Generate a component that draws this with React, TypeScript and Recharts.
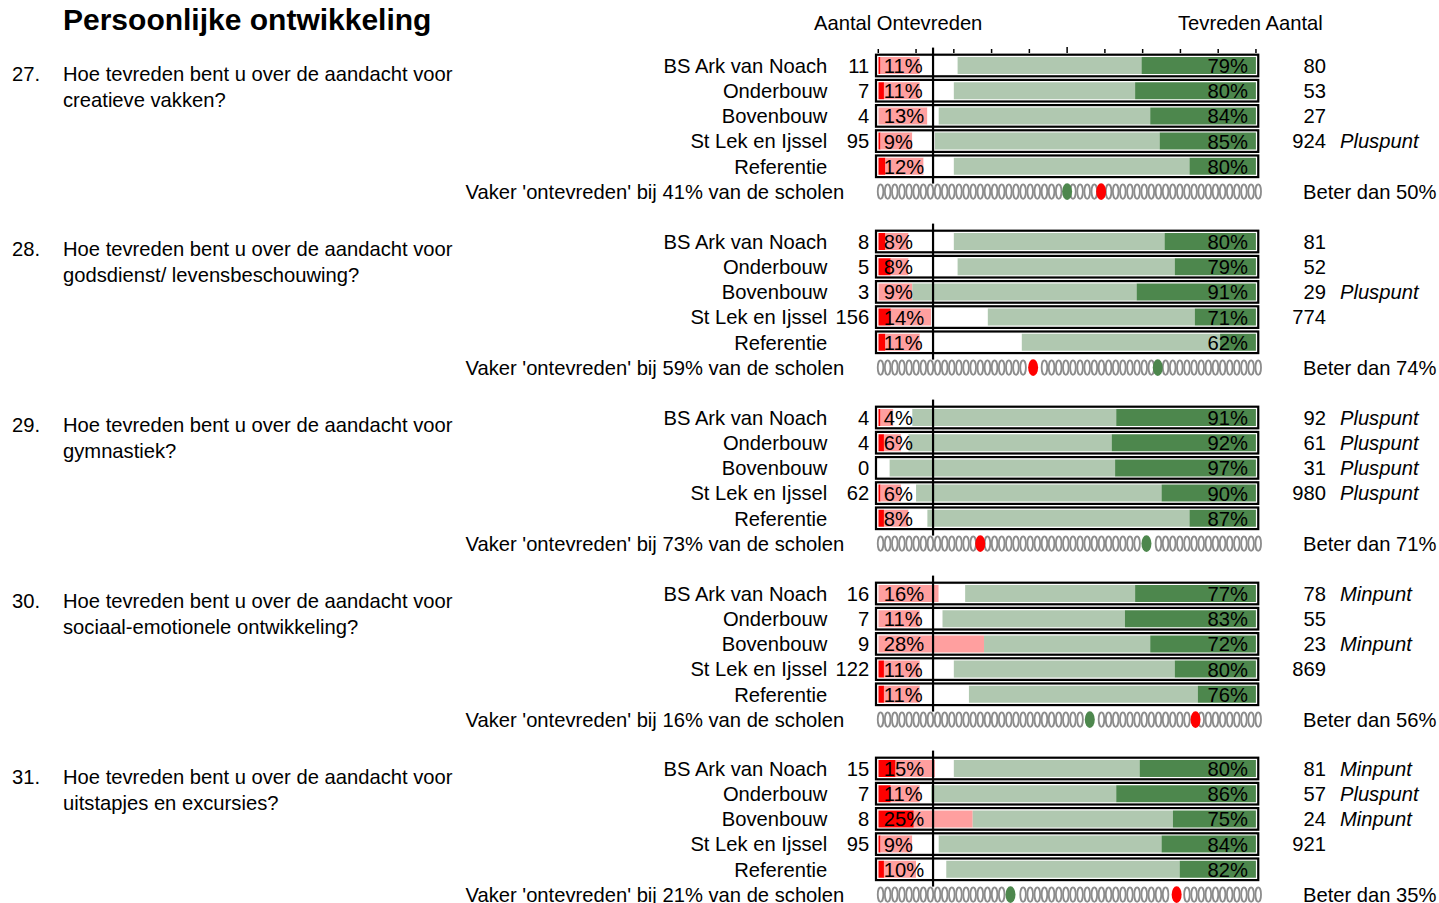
import React from "react"
import { ComposedChart, Bar, XAxis, YAxis, ReferenceLine, ReferenceDot, LabelList } from "recharts"

const FONT = '"Liberation Sans", Arial, sans-serif'

const QUESTION_NUMBERS = ["27.", "28.", "29.", "30.", "31."]
const QUESTION_TEXT = [
  ["Hoe tevreden bent u over de aandacht voor", "creatieve vakken?"],
  ["Hoe tevreden bent u over de aandacht voor", "godsdienst/ levensbeschouwing?"],
  ["Hoe tevreden bent u over de aandacht voor", "gymnastiek?"],
  ["Hoe tevreden bent u over de aandacht voor", "sociaal-emotionele ontwikkeling?"],
  ["Hoe tevreden bent u over de aandacht voor", "uitstapjes en excursies?"],
]
const GROUPS = ["BS Ark van Noach", "Onderbouw", "Bovenbouw", "St Lek en Ijssel", "Referentie"]

// aantal ontevreden / tevreden per groep
const COUNT_UNHAPPY = [
  [11, 7, 4, 95, null],
  [8, 5, 3, 156, null],
  [4, 4, 0, 62, null],
  [16, 7, 9, 122, null],
  [15, 7, 8, 95, null],
]
const COUNT_HAPPY = [
  [80, 53, 27, 924, null],
  [81, 52, 29, 774, null],
  [92, 61, 31, 980, null],
  [78, 55, 23, 869, null],
  [81, 57, 24, 921, null],
]
const REMARKS = [
  ["", "", "", "Pluspunt", ""],
  ["", "", "Pluspunt", "", ""],
  ["Pluspunt", "Pluspunt", "Pluspunt", "Pluspunt", ""],
  ["Minpunt", "", "Minpunt", "", ""],
  ["Minpunt", "Pluspunt", "Minpunt", "", ""],
]

// percentages (ontevreden totaal / tevreden totaal)
const PCT_UNHAPPY = [
  [11, 11, 13, 9, 12],
  [8, 8, 9, 14, 11],
  [4, 6, 0, 6, 8],
  [16, 11, 28, 11, 11],
  [15, 11, 25, 9, 10],
]
const PCT_HAPPY = [
  [79, 80, 84, 85, 80],
  [80, 79, 91, 71, 62],
  [91, 92, 97, 90, 87],
  [77, 83, 72, 80, 76],
  [80, 86, 75, 84, 82],
]
// zeer ontevreden / zeer tevreden deel
const VERY_UNHAPPY = [
  [0.6, 1.5, 0, 0.6, 1.9],
  [1.9, 3.3, 0, 3.3, 1.9],
  [0.6, 1.5, 0, 0.6, 1.5],
  [0, 0, 0, 1.5, 1.5],
  [4.6, 3.3, 9.4, 0.6, 1.5],
]
const VERY_HAPPY = [
  [30.3, 32, 28, 25.5, 17.6],
  [24.2, 21.5, 31.6, 16.2, 9.5],
  [37, 38.2, 37.3, 25, 17.6],
  [32, 34.7, 28, 21.5, 15.4],
  [30.8, 37, 22, 25, 20.2],
]

const MORE_UNHAPPY_THAN = [41, 59, 73, 16, 21]
const BETTER_THAN = [50, 74, 71, 56, 35]
const SCHOOL_COUNT = 54
const NEUTRAL_LINE = 14.5
const TOP_TICKS = [0, 10, 20, 30, 40, 50, 60, 70, 80, 90, 100]

const C_RED = "#ff0000"
const C_PINK = "#ff9f9f"
const C_LIGHT = "#b0c8b0"
const C_DARK = "#4d874d"
const C_GREY = "#8c8c8c"

const CHART_W = 1439
const LEFT_W = 878.3
const RIGHT_W = 183
const ROW_H = 25.2
const AXIS_H = 12
const FIRST_ROW_Y = 66
const SECTION_STEP = 175.75

function buildRows(q: number) {
  const rows: any[] = GROUPS.map((name, i) => {
    const red = VERY_UNHAPPY[q][i]
    const dark = VERY_HAPPY[q][i]
    return {
      name,
      red,
      pink: PCT_UNHAPPY[q][i] - red,
      white: 100 - PCT_UNHAPPY[q][i] - PCT_HAPPY[q][i],
      light: PCT_HAPPY[q][i] - dark,
      dark,
      unhappy: PCT_UNHAPPY[q][i],
      happy: PCT_HAPPY[q][i],
    }
  })
  rows.push({ name: "dots", red: 0, pink: 0, white: 0, light: 0, dark: 0, unhappy: 0, happy: 0 })
  return rows
}

const txt = { fontFamily: FONT, fontSize: 20.2, fill: "#000" }

function Section({ q }: { q: number }) {
  const data = buildRows(q)
  const redPos = 100 - MORE_UNHAPPY_THAN[q]
  const greenPos = BETTER_THAN[q]
  const slots = Array.from({ length: SCHOOL_COUNT }, (_, i) => 0.6 + (i * 100) / (SCHOOL_COUNT - 1))
    .filter((v) => Math.abs(v - redPos) > 1.5 && Math.abs(v - greenPos) > 1.5)

  const leftTick = (props: any) => {
    const { x, y, payload } = props
    const i = payload.index
    if (i === 5) {
      return (
        <text x={x - 34} y={y} dy="0.36em" textAnchor="end" style={txt}>
          Vaker 'ontevreden' bij {MORE_UNHAPPY_THAN[q]}% van de scholen
        </text>
      )
    }
    const n = COUNT_UNHAPPY[q][i]
    return (
      <g>
        <text x={x - 51} y={y} dy="0.36em" textAnchor="end" style={txt}>{GROUPS[i]}</text>
        {n !== null && <text x={x - 9} y={y} dy="0.36em" textAnchor="end" style={txt}>{n}</text>}
      </g>
    )
  }

  const rightTick = (props: any) => {
    const { x, y, payload } = props
    const i = payload.index
    if (i === 5) {
      return (
        <text x={x + 47} y={y} dy="0.36em" style={txt}>Beter dan {BETTER_THAN[q]}%</text>
      )
    }
    const n = COUNT_HAPPY[q][i]
    return (
      <g>
        {n !== null && <text x={x + 70} y={y} dy="0.36em" textAnchor="end" style={txt}>{n}</text>}
        {REMARKS[q][i] && (
          <text x={x + 84} y={y} dy="0.36em" style={{ ...txt, fontStyle: "italic" }}>{REMARKS[q][i]}</text>
        )}
      </g>
    )
  }

  const topTick = (props: any) => {
    const { x, y, payload } = props
    const len = payload.value === 50 ? 6 : 4
    return <line x1={x} x2={x} y1={y} y2={y - len} stroke="#000" strokeWidth={1.5} />
  }

  // black frame around each bar, drawn as the background of the always-present dark segment
  const frame = (props: any) => {
    const { x, y, width, height } = props
    if (!height) return <g />
    return (
      <rect x={x - 2.3} y={y - 2.3} width={width + 4.6} height={height + 4.6}
        fill="none" stroke="#000" strokeWidth={2.2} />
    )
  }

  // both percentage labels, positioned from the dark segment's geometry
  const pctLabels = (props: any) => {
    const { x, y, width, height, value } = props
    const row = data.find((r) => r.name === value)
    if (!row || !row.dark) return null
    const right = x + width
    const left = right - (100 * width) / row.dark
    const cy = y + height / 2
    return (
      <g>
        {row.unhappy > 0 && <text x={left + 5.5} y={cy} dy="0.37em" style={txt}>{row.unhappy}%</text>}
        <text x={right - 8} y={cy} dy="0.37em" textAnchor="end" style={txt}>{row.happy}%</text>
      </g>
    )
  }

  const top = FIRST_ROW_Y - ROW_H / 2 - AXIS_H + q * SECTION_STEP
  const height = AXIS_H + ROW_H * 6

  return (
    <div style={{ position: "absolute", left: 0, top, width: CHART_W, height }}>
      <ComposedChart width={CHART_W} height={height} data={data} layout="vertical"
        margin={{ top: 0, right: 0, bottom: 0, left: 0 }} barSize={17}>
        <XAxis type="number" orientation="top" domain={[0, 100]} ticks={TOP_TICKS} height={AXIS_H}
          axisLine={false} tickLine={false} tickSize={0} tickMargin={0}
          tick={q === 0 ? topTick : false} allowDataOverflow />
        <YAxis type="category" dataKey="name" width={LEFT_W} axisLine={false} tickLine={false}
          tickSize={0} tickMargin={0} tick={leftTick} interval={0} allowDuplicatedCategory={false} />
        <YAxis yAxisId="right" type="category" dataKey="name" orientation="right" width={RIGHT_W}
          axisLine={false} tickLine={false} tickSize={0} tickMargin={0} tick={rightTick} interval={0}
          allowDuplicatedCategory={false} />
        <Bar dataKey="red" stackId="s" fill={C_RED} isAnimationActive={false} />
        <Bar dataKey="pink" stackId="s" fill={C_PINK} isAnimationActive={false} />
        <Bar dataKey="white" stackId="s" fill="#ffffff" isAnimationActive={false} />
        <Bar dataKey="light" stackId="s" fill={C_LIGHT} isAnimationActive={false} />
        <Bar dataKey="dark" stackId="s" fill={C_DARK} isAnimationActive={false} background={frame}>
          <LabelList dataKey="name" content={pctLabels} />
        </Bar>
        <ReferenceLine x={NEUTRAL_LINE} stroke="#000" strokeWidth={2.2}
          shape={(p: any) => {
            const y1 = Math.min(p.y1, p.y2)
            const y2 = Math.max(p.y1, p.y2)
            return <line x1={p.x1} x2={p.x2} y1={y1 - 5.4} y2={y2 - 20.6} stroke="#000" strokeWidth={2.2} />
          }} />
        {slots.map((v, i) => (
          <ReferenceDot key={i} x={v} y="dots" ifOverflow="visible"
            shape={(p: any) => (
              <ellipse cx={p.cx} cy={p.cy} rx={2.8} ry={7.2} fill="none" stroke={C_GREY} strokeWidth={1.8} />
            )} />
        ))}
        <ReferenceDot x={greenPos} y="dots" ifOverflow="visible"
          shape={(p: any) => <ellipse cx={p.cx} cy={p.cy} rx={5} ry={8.3} fill={C_DARK} />} />
        <ReferenceDot x={redPos} y="dots" ifOverflow="visible"
          shape={(p: any) => <ellipse cx={p.cx} cy={p.cy} rx={5} ry={8.3} fill={C_RED} />} />
      </ComposedChart>
    </div>
  )
}

export default function App() {
  return (
    <div style={{ position: "fixed", left: 0, top: 0, width: 1439, height: 903, overflow: "hidden", background: "#fff" }}>
      <svg width={1439} height={903} style={{ position: "absolute", left: 0, top: 0 }}>
        <text x={63} y={30} style={{ fontFamily: FONT, fontSize: 30, fontWeight: "bold" }}>Persoonlijke ontwikkeling</text>
        <text x={814} y={30} style={txt}>Aantal Ontevreden</text>
        <text x={1178} y={30} style={txt}>Tevreden Aantal</text>
        {QUESTION_NUMBERS.map((n, q) => {
          const base = FIRST_ROW_Y + q * SECTION_STEP + 14.5
          return (
            <g key={n}>
              <text x={12} y={base} style={txt}>{n}</text>
              <text x={63} y={base} style={txt}>{QUESTION_TEXT[q][0]}</text>
              <text x={63} y={base + 26} style={txt}>{QUESTION_TEXT[q][1]}</text>
            </g>
          )
        })}
      </svg>
      {QUESTION_NUMBERS.map((n, q) => (
        <Section key={n} q={q} />
      ))}
    </div>
  )
}
